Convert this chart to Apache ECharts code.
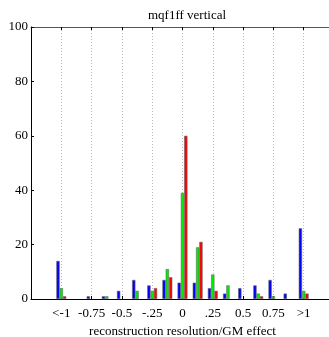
<!DOCTYPE html>
<html>
<head>
<meta charset="utf-8">
<script src="https://cdn.jsdelivr.net/npm/echarts@6/dist/echarts.min.js"></script>
<style>
  html, body { margin: 0; padding: 0; background: #fff; }
  #chart { width: 329px; height: 337px; }
</style>
</head>
<body>
<div id="chart"></div>
<script>
// bin centres (overflow bins at the ends)
const binCenters = [-1, -0.875, -0.75, -0.625, -0.5, -0.375, -0.25, -0.125, 0,
    0.125, 0.25, 0.375, 0.5, 0.625, 0.75, 0.875, 1];
const blueVals = [14, 0, 1, 1, 3, 7, 5, 7, 6, 6, 4, 2, 4, 5, 7, 2, 26];
const greenVals = [4, 0, 0, 1, 0, 3, 3, 11, 39, 19, 9, 5, 0, 2, 1, 0, 3];
const redVals = [1, 0, 0, 0, 0, 0, 4, 8, 60, 21, 3, 0, 0, 1, 0, 0, 2];
const tickLabels = {
    '-1': '<-1', '-0.75': '-0.75', '-0.5': '-0.5', '-0.25': '-.25', '0': '0',
    '0.25': '.25', '0.5': '0.5', '0.75': '0.75', '1': '>1',
};

const FONT = 'Liberation Serif';

// empty bins are not drawn at all
function pairs(vals) {
    return binCenters.map((x, i) => [x, vals[i]]).filter((p) => p[1] > 0);
}

function barSeries(name, color, vals) {
    return {
        name,
        type: 'bar',
        data: pairs(vals),
        barWidth: 3.3,
        barGap: '0%',
        itemStyle: { color, borderColor: '#666', borderWidth: 0.6 },
        silent: true,
    };
}

const chart = echarts.init(document.getElementById('chart'));
chart.setOption({
    animation: false,
    title: {
        text: 'mqf1ff vertical',
        left: 182,
        textAlign: 'center',
        top: 4,
        textStyle: { fontFamily: FONT, fontSize: 13, fontWeight: 'normal', color: '#000' },
    },
    grid: { left: 31, right: -5, top: 27, bottom: 38, outerBoundsMode: 'none', containLabel: false },
    xAxis: [
        {
            type: 'value',
            min: -1.25,
            max: 1.25,
            interval: 0.25,
            name: 'reconstruction resolution/GM effect',
            nameLocation: 'middle',
            nameGap: 24,
            nameTextStyle: { fontFamily: FONT, fontSize: 13, color: '#000' },
            axisLine: { show: true, onZero: false, lineStyle: { color: '#000', width: 1 } },
            axisTick: { show: true, inside: true, length: 3, lineStyle: { color: '#000' } },
            axisLabel: {
                fontFamily: FONT, fontSize: 13, color: '#000', margin: 8,
                formatter: (v) => tickLabels[String(Math.round(v * 100) / 100)] || '',
            },
            splitLine: { show: true, lineStyle: { color: '#bbb', type: [1, 2], width: 1 } },
        },
        {
            type: 'value',
            position: 'top',
            min: -1.25,
            max: 1.25,
            interval: 0.25,
            axisLine: { show: true, onZero: false, lineStyle: { color: '#555', width: 1 } },
            axisTick: { show: true, inside: true, length: 3, lineStyle: { color: '#000' } },
            axisLabel: { show: false },
            splitLine: { show: false },
        },
    ],
    yAxis: {
        type: 'value',
        min: 0,
        max: 100,
        interval: 20,
        axisLine: { show: true, onZero: false, lineStyle: { color: '#000', width: 1 } },
        axisTick: { show: true, inside: true, length: 3, lineStyle: { color: '#000' } },
        axisLabel: { fontFamily: FONT, fontSize: 13, color: '#000', margin: 3 },
        splitLine: { show: false },
    },
    series: [
        barSeries('blue', '#0000ff', blueVals),
        barSeries('green', '#00ee00', greenVals),
        barSeries('red', '#ff0000', redVals),
    ],
});
</script>
</body>
</html>
